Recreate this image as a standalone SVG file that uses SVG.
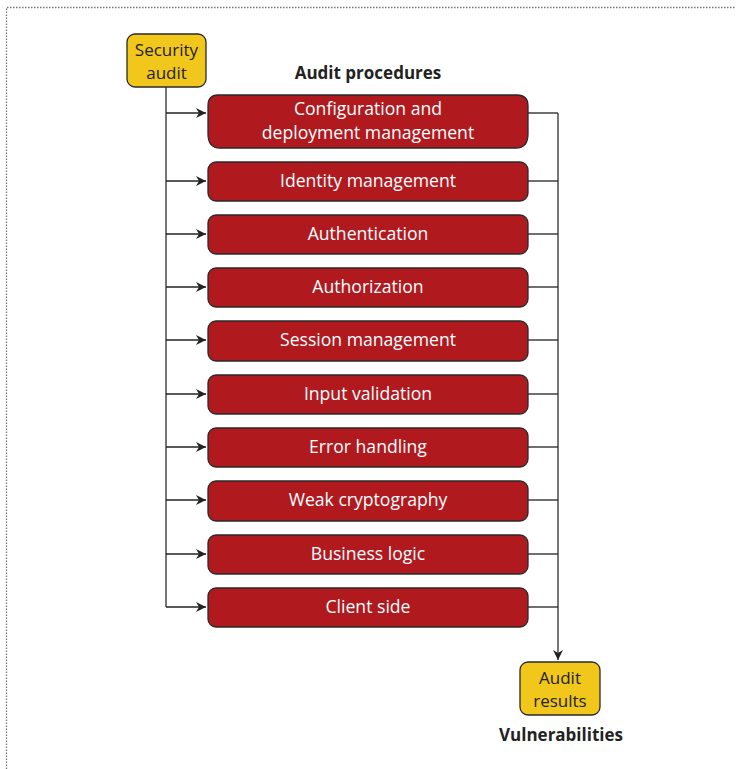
<svg xmlns="http://www.w3.org/2000/svg" width="736" height="769" viewBox="0 0 736 769">
<defs>
<style>
.red{fill:#B01A1F;stroke:#2a2a2a;stroke-width:1.3}
.yel{fill:#F1C71C;stroke:#2a2a2a;stroke-width:1.3}
.wt{fill:#fff;font-family:"Open Sans","Noto Sans",sans-serif;font-size:17.6px;text-anchor:middle}
.bt{fill:#222;font-family:"Open Sans","Noto Sans",sans-serif;font-size:17px;text-anchor:middle}
.lbl{fill:#222;font-family:"Open Sans","Noto Sans",sans-serif;font-size:17px;font-weight:bold;text-anchor:middle}
.ln{stroke:#222;stroke-width:1.3;fill:none}
.vl{stroke:#555;stroke-width:1.6;fill:none}
</style>
<marker id="ah" viewBox="0 0 10 10" refX="10" refY="5" markerWidth="10" markerHeight="10" markerUnits="userSpaceOnUse" orient="auto">
<path d="M0,0 L10,5 L0,10 L3,5 Z" fill="#222"/>
</marker>
</defs>
<rect width="736" height="769" fill="#fff"/>
<path d="M6.5,769 V7.5 H736" fill="none" stroke="#777" stroke-width="1.3" stroke-dasharray="1.5,1.5"/>
<text class="lbl" x="368" y="79">Audit procedures</text>
<text class="lbl" x="561" y="741">Vulnerabilities</text>
<g id="connectors">
<path class="vl" d="M166,87 V607"/>
<path class="ln" d="M166,113 H206" marker-end="url(#ah)"/>
<path class="ln" d="M166,181 H206" marker-end="url(#ah)"/>
<path class="ln" d="M166,234 H206" marker-end="url(#ah)"/>
<path class="ln" d="M166,287 H206" marker-end="url(#ah)"/>
<path class="ln" d="M166,340 H206" marker-end="url(#ah)"/>
<path class="ln" d="M166,394 H206" marker-end="url(#ah)"/>
<path class="ln" d="M166,447 H206" marker-end="url(#ah)"/>
<path class="ln" d="M166,500 H206" marker-end="url(#ah)"/>
<path class="ln" d="M166,554 H206" marker-end="url(#ah)"/>
<path class="ln" d="M166,607 H206" marker-end="url(#ah)"/>
<path class="vl" d="M558,113 V660" marker-end="url(#ah)"/>
<path class="ln" d="M528,113 H558"/>
<path class="ln" d="M528,181 H558"/>
<path class="ln" d="M528,234 H558"/>
<path class="ln" d="M528,287 H558"/>
<path class="ln" d="M528,340 H558"/>
<path class="ln" d="M528,394 H558"/>
<path class="ln" d="M528,447 H558"/>
<path class="ln" d="M528,500 H558"/>
<path class="ln" d="M528,554 H558"/>
<path class="ln" d="M528,607 H558"/>
</g>
<g id="security-audit">
<rect class="yel" x="127" y="34" width="79" height="53" rx="8"/>
<text class="bt" x="166.5" y="56">Security</text>
<text class="bt" x="166.5" y="79">audit</text>
</g>
<g id="config">
<path class="red" d="M218,95 H517 Q528,95 528,106 V134 Q528,148 516,148 H220 Q208,148 208,134 V106 Q208,95 218,95 Z"/>
<text class="wt" x="368" y="115">Configuration and</text>
<text class="wt" x="368" y="139">deployment management</text>
</g>
<g id="identity">
<rect class="red" x="208" y="162" width="320" height="39" rx="8"/>
<text class="wt" x="368" y="187">Identity management</text>
</g>
<g id="authentication">
<rect class="red" x="208" y="215" width="320" height="39" rx="8"/>
<text class="wt" x="368" y="240">Authentication</text>
</g>
<g id="authorization">
<rect class="red" x="208" y="268" width="320" height="39" rx="8"/>
<text class="wt" x="368" y="293">Authorization</text>
</g>
<g id="session">
<rect class="red" x="208" y="321" width="320" height="40" rx="8"/>
<text class="wt" x="368" y="346">Session management</text>
</g>
<g id="input">
<rect class="red" x="208" y="375" width="320" height="39" rx="8"/>
<text class="wt" x="368" y="400">Input validation</text>
</g>
<g id="error">
<rect class="red" x="208" y="428" width="320" height="39" rx="8"/>
<text class="wt" x="368" y="453">Error handling</text>
</g>
<g id="crypto">
<rect class="red" x="208" y="481" width="320" height="40" rx="8"/>
<text class="wt" x="368" y="506">Weak cryptography</text>
</g>
<g id="business">
<rect class="red" x="208" y="535" width="320" height="39" rx="8"/>
<text class="wt" x="368" y="560">Business logic</text>
</g>
<g id="client">
<rect class="red" x="208" y="588" width="320" height="39" rx="8"/>
<text class="wt" x="368" y="613">Client side</text>
</g>
<g id="audit-results">
<rect class="yel" x="520" y="662" width="80" height="53" rx="8"/>
<text class="bt" x="560" y="684">Audit</text>
<text class="bt" x="560" y="707">results</text>
</g>
</svg>
